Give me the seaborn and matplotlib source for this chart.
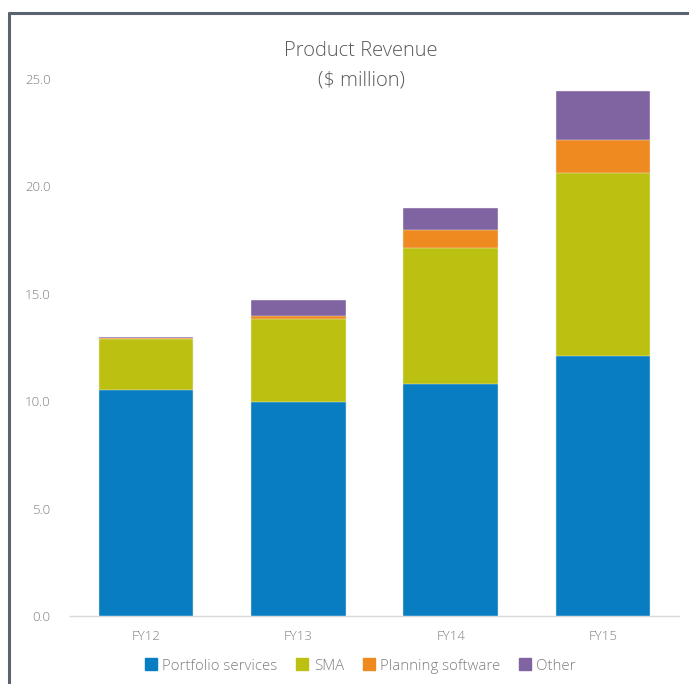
import matplotlib
matplotlib.use("Agg")
import matplotlib.pyplot as plt
import seaborn as sns
import numpy as np
import pandas as pd
from matplotlib.lines import Line2D

years = ["FY12", "FY13", "FY14", "FY15"]
series_names = ["Portfolio services", "SMA", "Planning software", "Other"]
portfolio = [10.52, 9.98, 10.79, 12.10]
sma = [2.38, 3.83, 6.33, 8.51]
planning = [0.02, 0.16, 0.84, 1.55]
other = [0.08, 0.76, 1.03, 2.27]
colors = ["#087DC1", "#BCC111", "#EE8A20", "#8064A2"]
yticks = [0, 5, 10, 15, 20, 25]

sns.set_theme(style="white")
plt.rcParams['font.family'] = ['Open Sans', 'DejaVu Sans']

fig = plt.figure(figsize=(6.89, 6.84), dpi=100)
ax = fig.add_axes([70/689, 1-616/684, 609/689, 537/684])

layers = [portfolio, sma, planning, other]
cum = np.cumsum(np.array(layers), axis=0)
df = pd.DataFrame({"year": years})
for i in range(3, -1, -1):
    df["v"] = cum[i]
    sns.barplot(data=df, x="year", y="v", color=colors[i], saturation=1,
                width=0.62, edgecolor="#F2F2F2", linewidth=0.3, ax=ax, zorder=2 + (3 - i))

ax.set_xlim(-0.5, 3.5)
ax.set_ylim(0, 25)
ax.set_yticks(yticks)
ax.set_yticklabels([f"{v:.1f}" for v in yticks])
ax.set_xlabel("")
ax.set_ylabel("")
for s in ["top", "right", "left"]:
    ax.spines[s].set_visible(False)
ax.spines["bottom"].set_color("#D9D9D9")
ax.spines["bottom"].set_linewidth(1)
ax.tick_params(axis="both", length=0, labelsize=9.5, colors="#7F7F7F")
ax.tick_params(axis="y", pad=14)
ax.tick_params(axis="x", pad=10)
for lab in ax.get_xticklabels() + ax.get_yticklabels():
    lab.set_fontweight("light")

fig.text(361/689, 1-51/684, "Product Revenue", ha="center", va="center",
         fontsize=14.5, color="#595959", fontweight="light")
fig.text(361/689, 1-80/684, "($ million)", ha="center", va="center",
         fontsize=14.5, color="#595959", fontweight="light")

handles = [Line2D([0], [0], marker="s", linestyle="", markersize=8,
                  markerfacecolor=c, markeredgecolor=c) for c in colors]
leg = fig.legend(handles, series_names, loc="center", bbox_to_anchor=(360/689, 1-666/684),
                 ncol=4, frameon=False, fontsize=10.8, handletextpad=0.3,
                 columnspacing=1.2, handlelength=0.9)
for t in leg.get_texts():
    t.set_color("#7F7F7F")
    t.set_fontweight("light")

# partial frame border
fig.add_artist(Line2D([9/689, 9/689], [0, 1-13/684], transform=fig.transFigure,
                      color="#5A6470", linewidth=2.2))
fig.add_artist(Line2D([9/689, 1], [1-13/684, 1-13/684], transform=fig.transFigure,
                      color="#5A6470", linewidth=2.2))

fig.savefig("out.png", dpi=100)
